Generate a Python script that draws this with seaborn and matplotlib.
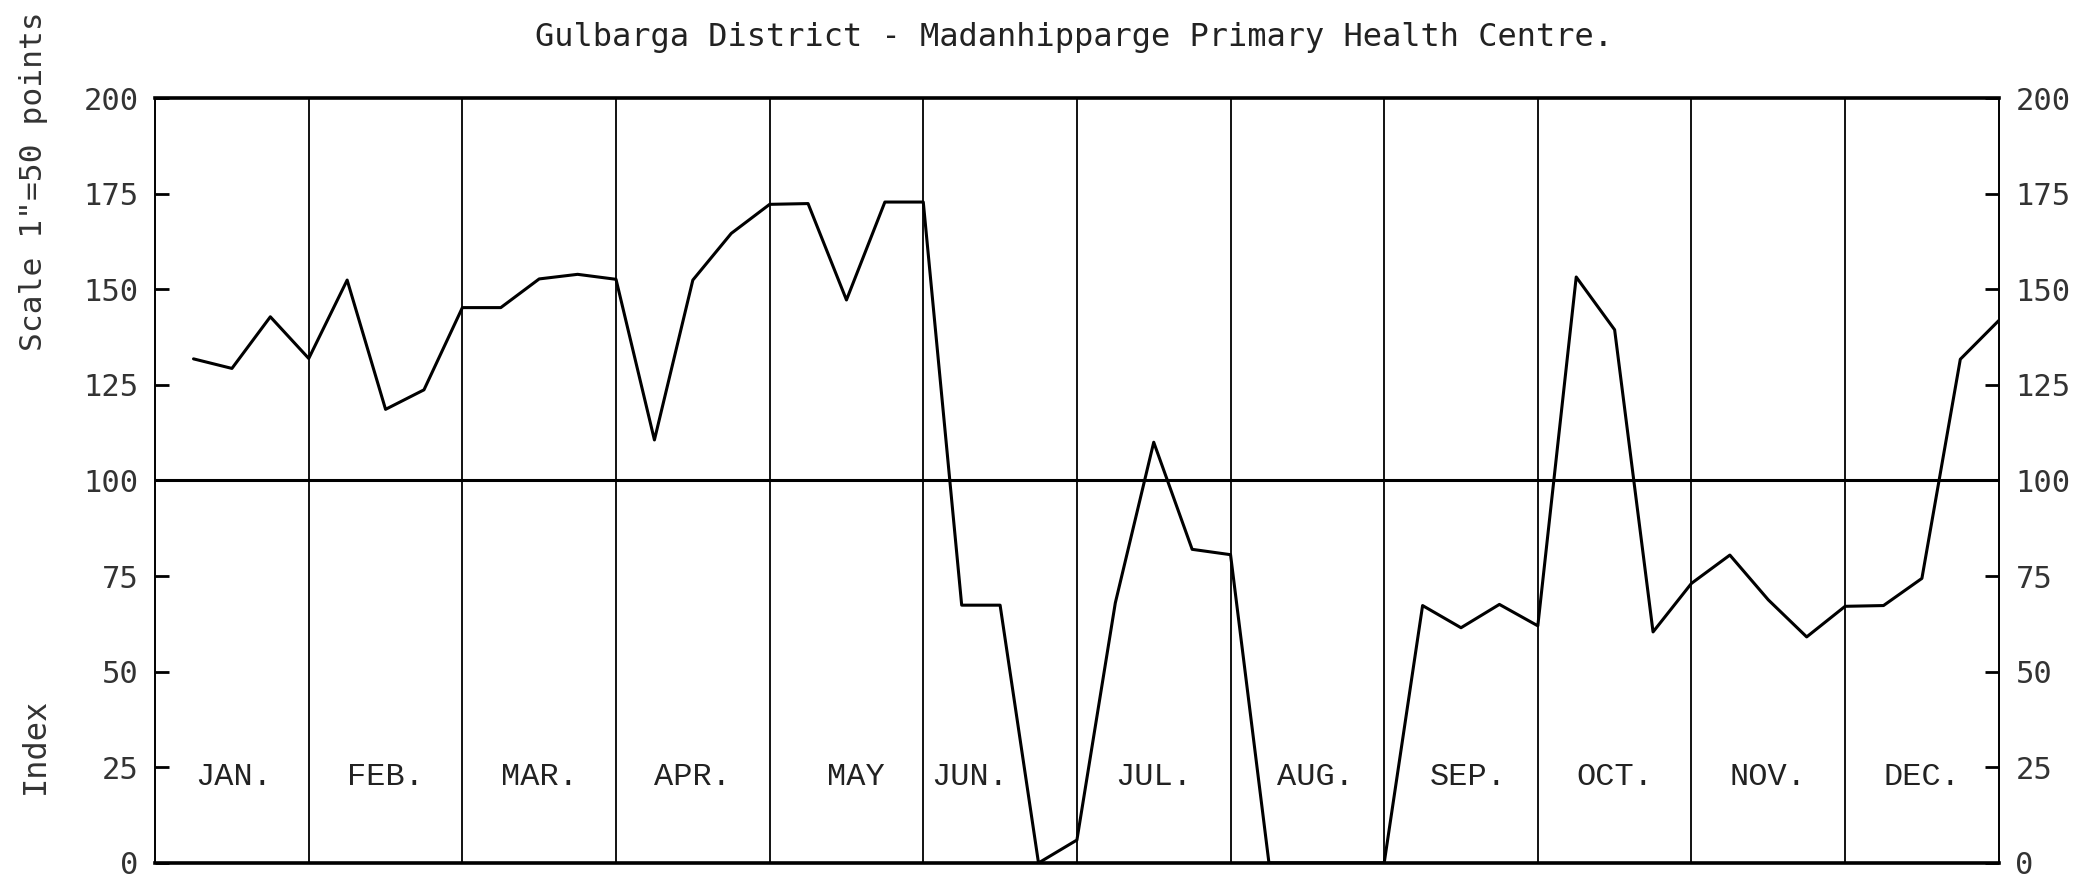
import numpy as np
import matplotlib
matplotlib.use("Agg")
import matplotlib.pyplot as plt
import seaborn as sns

MONTHS = ["JAN.", "FEB.", "MAR.", "APR.", "MAY", "JUN.",
          "JUL.", "AUG.", "SEP.", "OCT.", "NOV.", "DEC."]

# weekly index values, four readings per month
INDEX = [
    131.8, 129.3, 142.8, 131.9,   # Jan
    152.4, 118.6, 123.7, 145.2,   # Feb
    145.2, 152.7, 153.9, 152.6,   # Mar
    110.6, 152.4, 164.6, 172.2,   # Apr
    172.4, 147.2, 172.8, 172.8,   # May
    67.4, 67.4, 0.0, 6.0,         # Jun
    68.0, 110.0, 82.0, 80.6,      # Jul
    0.0, 0.0, 0.0, 0.0,           # Aug
    67.3, 61.5, 67.6, 62.0,       # Sep
    153.2, 139.4, 60.4, 73.1,     # Oct
    80.5, 68.8, 59.1, 67.1,       # Nov
    67.3, 74.4, 131.7, 141.8,     # Dec
]
WEEKS = list(range(1, len(INDEX) + 1))
Y_TICKS = [0, 25, 50, 75, 100, 125, 150, 175, 200]

TITLE = "Gulbarga District - Madanhipparge Primary Health Centre."

sns.set_style("white")
plt.rcParams["font.family"] = ["DejaVu Sans Mono", "DejaVu Sans"]

fig = plt.figure(figsize=(20.82, 8.83), dpi=100)
ax = fig.add_axes([0.0745, 0.0227, 0.8855, 0.8663])

sns.lineplot(x=WEEKS, y=INDEX, ax=ax, color="black", linewidth=2.2)

# month dividers and the 100 reference line
for m in range(1, 12):
    ax.axvline(m * 4, color="black", linewidth=1.3, zorder=1)
ax.axhline(100, color="black", linewidth=2.2, zorder=1)

ax.set_xlim(0, 48)
ax.set_ylim(0, 200)
ax.set_xticks([])
ax.set_yticks(Y_TICKS)
ax.set_yticklabels([str(t) for t in Y_TICKS])
ax.tick_params(axis="y", direction="in", length=10, width=2, colors="black",
               left=True, right=True, labelleft=True, labelright=True,
               labelsize=22, pad=12)
for lbl in ax.get_yticklabels():
    lbl.set_color("#333333")

for side in ["top", "bottom"]:
    ax.spines[side].set_linewidth(2.6)
for side in ["left", "right"]:
    ax.spines[side].set_linewidth(1.4)
for sp in ax.spines.values():
    sp.set_color("black")

# month names typed inside the lower band
label_off = [0.51, 0.5, 0.5, 0.5, 0.56, 0.3, 0.5, 0.55, 0.55, 0.5, 0.5, 0.5]
for i, name in enumerate(MONTHS):
    ax.text((i + label_off[i]) * 4, 22.5, name, ha="center", va="center",
            fontsize=23, family=["Liberation Mono", "DejaVu Sans Mono"],
            color="#222222")

fig.text(0.516, 0.958, TITLE, ha="center", va="center", fontsize=23,
         color="#222222")
fig.text(0.016, 0.795, 'Scale 1"=50 points', rotation=90, ha="center",
         va="center", fontsize=22.5, color="#333333")
fig.text(0.017, 0.155, "Index", rotation=90, ha="center", va="center",
         fontsize=23, color="#333333")

fig.savefig("out.png", dpi=100)
